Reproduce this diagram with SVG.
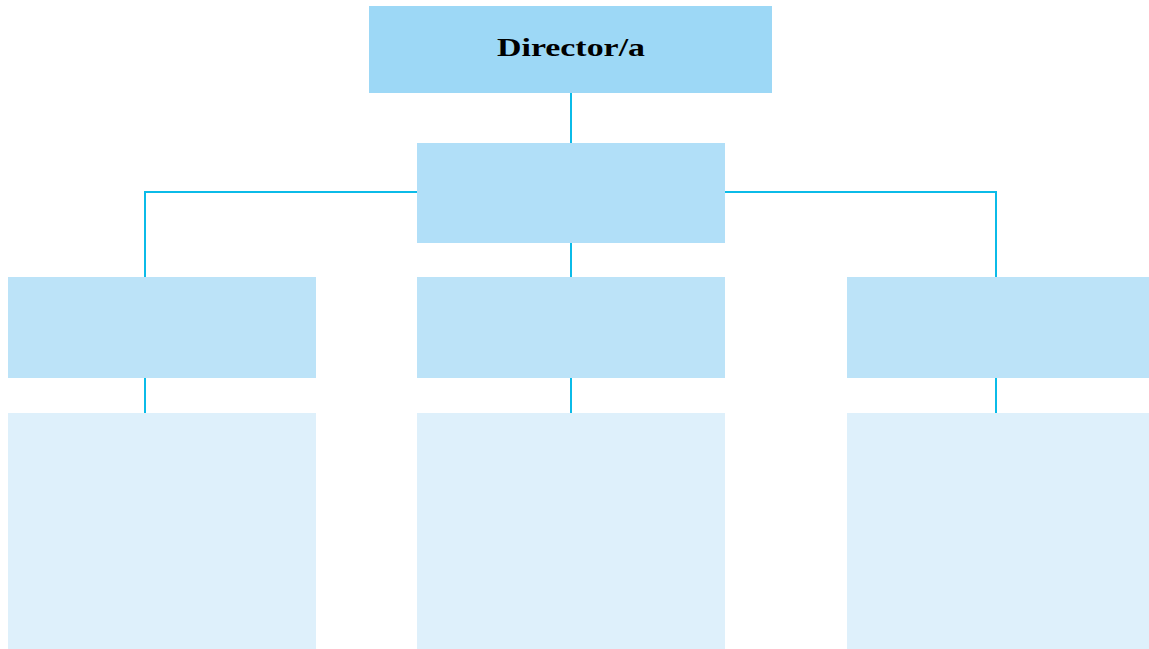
<svg xmlns="http://www.w3.org/2000/svg" width="1149" height="649" viewBox="0 0 1149 649">
<style>
.l{stroke:#0bbbe8;stroke-width:2;fill:none}
.t{font-family:"Liberation Serif","DejaVu Serif",serif;font-weight:bold;font-size:25px;fill:#000}
.b3{fill:#bce3f8}
.b4{fill:#def0fb}
</style>
<rect width="1149" height="649" fill="#fff"/>
<g id="connectors">
<path class="l" d="M571 93V143M571 243V277M145 277V192H996V277M145 378V413M571 378V413M996 378V413"/>
</g>
<g id="director"><rect x="369" y="6" width="403" height="87" fill="#9dd8f6"/><text class="t" x="571" y="56" text-anchor="middle" textLength="148" lengthAdjust="spacingAndGlyphs">Director/a</text></g>
<g id="level2"><rect x="417" y="143" width="308" height="100" fill="#b1dff8"/></g>
<g id="dept-left"><rect class="b3" x="8" y="277" width="308" height="101"/></g>
<g id="dept-center"><rect class="b3" x="417" y="277" width="308" height="101"/></g>
<g id="dept-right"><rect class="b3" x="847" y="277" width="302" height="101"/></g>
<g id="detail-left"><rect class="b4" x="8" y="413" width="308" height="236"/></g>
<g id="detail-center"><rect class="b4" x="417" y="413" width="308" height="236"/></g>
<g id="detail-right"><rect class="b4" x="847" y="413" width="302" height="236"/></g>
</svg>
